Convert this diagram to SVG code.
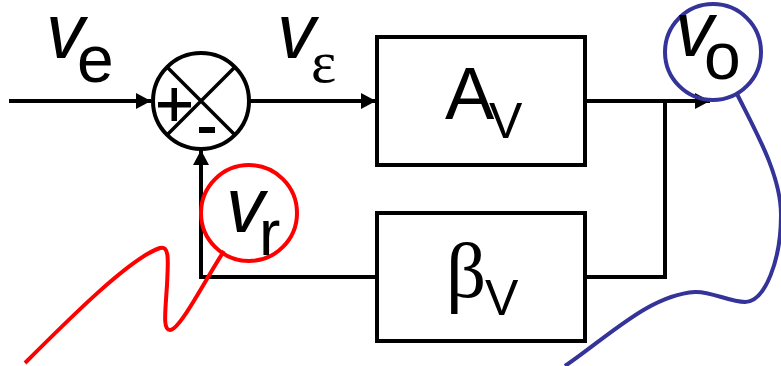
<svg xmlns="http://www.w3.org/2000/svg" width="781" height="366" viewBox="0 0 781 366">
<style>
text{font-family:"Liberation Sans",Arial,sans-serif;fill:#000}
.i{font-style:italic;font-size:77px}
.s{font-size:66px}
.u2{font-size:50px}
.b{fill:#fff;stroke:#000;stroke-width:4}
.w{fill:none;stroke:#000;stroke-width:4}
.t{fill:none;stroke:#000;stroke-width:3.500}
.r{fill:none;stroke:#f00;stroke-width:4}
.u{fill:none;stroke:#333399;stroke-width:4}
</style>
<defs><marker id="a" markerUnits="userSpaceOnUse" markerWidth="16" markerHeight="16" refX="15" refY="8" orient="auto"><path d="M0 0L15 8L0 16Z" fill="#000"/></marker></defs>
<g id="connectors">
<path class="w" d="M9 101H151" marker-end="url(#a)"/>
<path class="w" d="M250 101H376" marker-end="url(#a)"/>
<path class="w" d="M585 101H710" marker-end="url(#a)"/>
<path class="w" d="M665 101V277H585"/>
<path class="w" d="M376 277H201V150" marker-end="url(#a)"/>
</g>
<g id="sum">
<circle class="b" cx="201" cy="101" r="48"/>
<path class="t" d="M168 68L234 134M234 68L168 134"/>
<path d="M158 102H191V107.500H158ZM171.500 88H177V121H171.500ZM199 127H215V133H199Z" fill="#000"/>
</g>
<g id="ve"><text class="i" x="46" y="58">v</text><text class="s" x="77" y="82">e</text></g>
<g id="veps"><text class="i" x="277" y="58">v</text><text x="311" y="82" style="font-size:60px;font-family:'Liberation Serif',serif">ε</text></g>
<g id="av"><rect class="b" x="377" y="37" width="208" height="128"/><text x="445" y="119" style="font-size:74px">A</text><text class="u2" x="489" y="138">V</text></g>
<g id="bv"><rect class="b" x="377" y="213" width="208" height="128"/><text x="446" y="297" style="font-size:79px;font-family:'Liberation Serif',serif">β</text><text class="u2" x="485" y="315">V</text></g>
<g id="vr"><circle class="r" cx="249" cy="213" r="48"/><text class="i" x="226" y="232">v</text><text x="259" y="255" style="font-size:64px">r</text>
<path class="r" d="M25 363C70 318 130 258 160 248C170 245 168 262 167 285C165 315 163 330 170 330C180 330 205 280 224 251"/></g>
<g id="vo"><circle class="u" cx="713" cy="52" r="48"/><text class="i" x="675" y="56">v</text><text class="s" x="704" y="79">o</text>
<path class="u" d="M737 94C755 130 781 175 781 215C781 260 765 302 745 302C730 302 710 291 695 292C650 295 610 335 565 366"/></g>
</svg>
